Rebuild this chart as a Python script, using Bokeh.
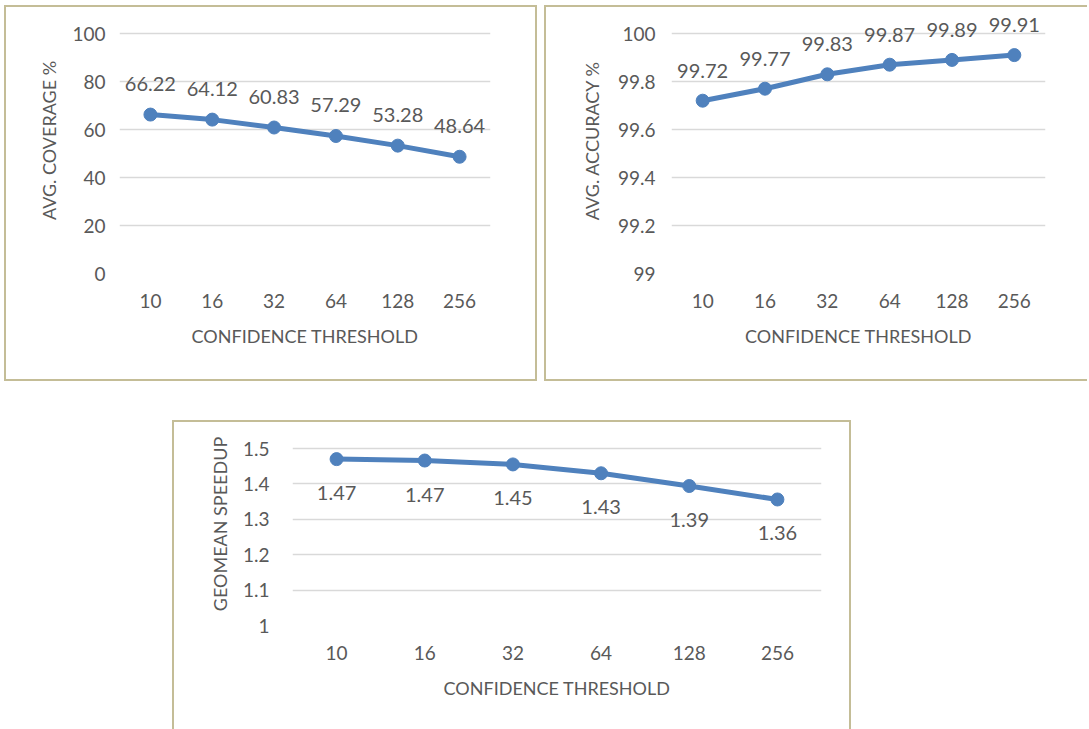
from bokeh.plotting import figure
from bokeh.layouts import column, row
from bokeh.models import Range1d, FixedTicker, NumeralTickFormatter, Spacer, ColumnDataSource, LabelSet
from bokeh.core.properties import value
from bokeh.embed import file_html
from bokeh.resources import INLINE

thresholds = ["10", "16", "32", "64", "128", "256"]
coverage = [66.22, 64.12, 60.83, 57.29, 53.28, 48.64]
accuracy = [99.72, 99.77, 99.83, 99.87, 99.89, 99.91]
speedup = [1.47, 1.466, 1.455, 1.43, 1.394, 1.356]
speedup_labels = ["1.47", "1.47", "1.45", "1.43", "1.39", "1.36"]

coverage_ticks = [0, 20, 40, 60, 80, 100]
accuracy_ticks = [99, 99.2, 99.4, 99.6, 99.8, 100]
speedup_ticks = [1, 1.1, 1.2, 1.3, 1.4, 1.5]

x_title = "CONFIDENCE THRESHOLD"
FONT = "Lato"
TXT = "#595959"
BLUE = "#4F81BD"
GRID = "#D9D9D9"
BORDER = "#C4BD97"


def make(values, labels, ticks, ytitle, w, h, bl, br, top_pad, span_px, bb, yoff, ystand,
         ytstand, sides):
    y0, y1 = ticks[0], ticks[-1]
    # extra room above the top gridline (inside the frame) so labels are not clipped
    y_top = y1 + top_pad * (y1 - y0) / span_px
    p = figure(x_range=thresholds, y_range=Range1d(y0, y_top), width=w, height=h,
               output_backend="svg", toolbar_location=None,
               min_border_left=bl, min_border_right=br, min_border_top=0, min_border_bottom=bb)
    st = {"box-sizing": "border-box"}
    for s in ("top", "right", "bottom", "left"):
        st[f"border-{s}"] = f"2px solid {BORDER}" if s in sides else "0px none"
    p.styles = st
    p.outline_line_color = None
    p.xgrid.grid_line_color = None
    p.ygrid.grid_line_color = GRID
    p.ygrid.grid_line_width = 1.5
    p.yaxis.ticker = FixedTicker(ticks=ticks)
    p.yaxis.formatter = NumeralTickFormatter(format="0.[0]")
    for ax in (p.xaxis[0], p.yaxis[0]):
        ax.axis_line_color = None
        ax.major_tick_line_color = None
        ax.minor_tick_line_color = None
        ax.major_label_text_font = FONT
        ax.major_label_text_font_size = "19px"
        ax.major_label_text_color = TXT
        ax.axis_label_text_font = FONT
        ax.axis_label_text_font_size = "18px"
        ax.axis_label_text_font_style = "normal"
        ax.axis_label_text_color = TXT
    p.xaxis.axis_label = x_title
    p.yaxis.axis_label = ytitle
    p.xaxis.major_label_standoff = 14
    p.xaxis.axis_label_standoff = 14
    p.yaxis.major_label_standoff = ystand
    p.yaxis.axis_label_standoff = ytstand
    src = ColumnDataSource(dict(x=thresholds, y=values, t=labels))
    p.line("x", "y", source=src, line_color=BLUE, line_width=5)
    p.scatter("x", "y", source=src, size=13, fill_color=BLUE, line_color=BLUE)
    lbl = LabelSet(x="x", y="y", text="t", source=src, y_offset=yoff, text_align="center",
                   text_baseline="middle", text_font=value(FONT), text_font_size="20px",
                   text_color=TXT)
    p.add_layout(lbl)
    return p


p1 = make(coverage, [f"{v:.2f}" for v in coverage], coverage_ticks,
          "AVG. COVERAGE %", 533, 376, 113, 49, 26, 240, 110, 31, 8, 9,
          ("top", "right", "bottom", "left"))
p2 = make(accuracy, [f"{v:.2f}" for v in accuracy], accuracy_ticks,
          "AVG. ACCURACY %", 543, 376, 125, 44, 26, 240, 110, 30, 10, 12,
          ("top", "bottom", "left"))
p3 = make(speedup, speedup_labels, speedup_ticks,
          "GEOMEAN SPEEDUP", 679, 309, 118, 32, 26, 177, 106, -34, 17, 9,
          ("top", "right", "left"))

layout = column(
    Spacer(width=10, height=5),
    row(Spacer(width=4, height=10), p1, Spacer(width=7, height=10), p2),
    Spacer(width=10, height=39),
    row(Spacer(width=172, height=10), p3),
)

open("out.html", "w").write(file_html(layout, INLINE))
